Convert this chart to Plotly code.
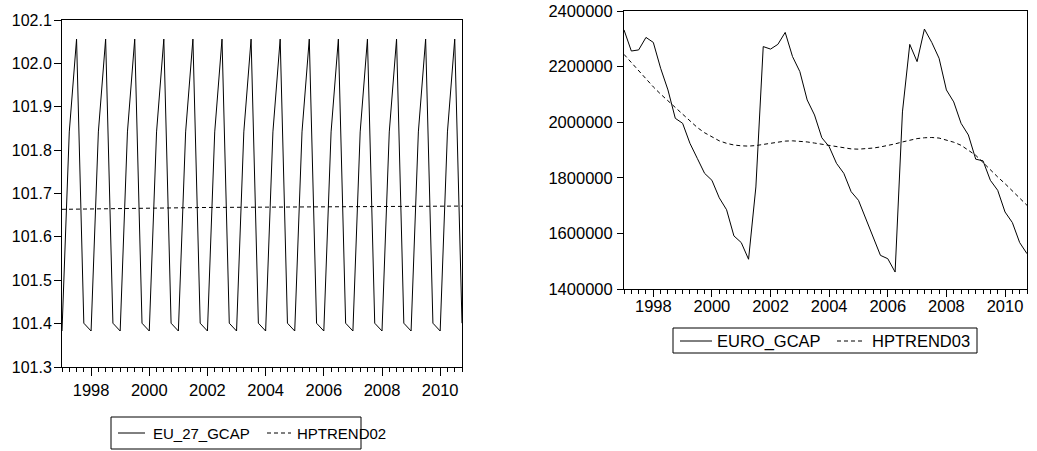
import plotly.graph_objects as go

# ---- data -------------------------------------------------------------
years = list(range(1997, 2011))
quarter_offsets = [0.0, 0.25, 0.5, 0.75]          # Q1..Q4 position inside a year
x = [y + q for y in years for q in quarter_offsets]

eu27_gcap = [
    101.383, 101.842, 102.056, 101.401,  # 1997
    101.383, 101.842, 102.056, 101.401,  # 1998
    101.383, 101.842, 102.056, 101.401,  # 1999
    101.383, 101.842, 102.056, 101.401,  # 2000
    101.383, 101.842, 102.056, 101.401,  # 2001
    101.383, 101.842, 102.056, 101.401,  # 2002
    101.383, 101.842, 102.056, 101.401,  # 2003
    101.383, 101.842, 102.056, 101.401,  # 2004
    101.383, 101.842, 102.056, 101.401,  # 2005
    101.383, 101.842, 102.056, 101.401,  # 2006
    101.383, 101.842, 102.056, 101.401,  # 2007
    101.383, 101.842, 102.056, 101.401,  # 2008
    101.383, 101.842, 102.056, 101.401,  # 2009
    101.383, 101.842, 102.056, 101.401,  # 2010
]

hptrend02 = [
    101.6635, 101.6638, 101.6642, 101.6645, 101.6648, 101.6651, 101.6653, 101.6656,
    101.6658, 101.6660, 101.6662, 101.6664, 101.6666, 101.6668, 101.6669, 101.6671,
    101.6672, 101.6674, 101.6675, 101.6676, 101.6678, 101.6679, 101.6680, 101.6681,
    101.6682, 101.6683, 101.6684, 101.6685, 101.6686, 101.6687, 101.6688, 101.6689,
    101.6690, 101.6691, 101.6692, 101.6692, 101.6693, 101.6694, 101.6695, 101.6696,
    101.6697, 101.6697, 101.6698, 101.6699, 101.6700, 101.6701, 101.6702, 101.6702,
    101.6703, 101.6704, 101.6705, 101.6706, 101.6707, 101.6708, 101.6709, 101.6710,
]

euro_gcap = [
    2332000, 2256000, 2260000, 2305000,
    2287000, 2194000, 2116000, 2014000,
    1996000, 1924000, 1870000, 1816000,
    1791000, 1728000, 1685000, 1591000,
    1567000, 1507000, 1767000, 2272000,
    2263000, 2280000, 2323000, 2236000,
    2182000, 2080000, 2026000, 1944000,
    1912000, 1852000, 1816000, 1750000,
    1719000, 1653000, 1593000, 1521000,
    1509000, 1461000, 2037000, 2280000,
    2218000, 2335000, 2287000, 2230000,
    2116000, 2073000, 1996000, 1954000,
    1867000, 1861000, 1791000, 1755000,
    1677000, 1639000, 1567000, 1527000,
]

hptrend03 = [
    2244000, 2214000, 2184000, 2155000,
    2127000, 2101000, 2077000, 2055000,
    2030000, 2005000, 1981000, 1962000,
    1946000, 1933000, 1924000, 1918000,
    1915000, 1914000, 1916000, 1920000,
    1925000, 1929000, 1932000, 1933000,
    1932000, 1929000, 1925000, 1921000,
    1916000, 1911000, 1907000, 1904000,
    1903000, 1904000, 1907000, 1911000,
    1916000, 1922000, 1929000, 1936000,
    1941000, 1944000, 1945000, 1943000,
    1936000, 1928000, 1917000, 1900000,
    1881000, 1855000, 1828000, 1803000,
    1779000, 1753000, 1727000, 1701000,
]

label_years = [1998, 2000, 2002, 2004, 2006, 2008, 2010]
left_yticks = [101.3, 101.4, 101.5, 101.6, 101.7, 101.8, 101.9, 102.0, 102.1]
right_yticks = [1400000, 1600000, 1800000, 2000000, 2200000, 2400000]

left_names = ["EU_27_GCAP", "HPTREND02"]
right_names = ["EURO_GCAP", "HPTREND03"]

# ---- geometry helpers (page pixels -> paper) ------------------------------
W, H = 1037, 451
FONT = "Liberation Sans, Arial, Helvetica, sans-serif"
DASH = "4px,3px"


def px(X):
    return X / W


def py(Y):
    return 1 - Y / H


fig = go.Figure()
fig.add_trace(go.Scatter(x=x, y=eu27_gcap, name=left_names[0], mode="lines",
                         line=dict(color="black", width=1), xaxis="x", yaxis="y"))
fig.add_trace(go.Scatter(x=x, y=hptrend02, name=left_names[1], mode="lines",
                         line=dict(color="black", width=1, dash=DASH), xaxis="x", yaxis="y"))
fig.add_trace(go.Scatter(x=x, y=euro_gcap, name=right_names[0], mode="lines",
                         line=dict(color="black", width=1), xaxis="x2", yaxis="y2"))
fig.add_trace(go.Scatter(x=x, y=hptrend03, name=right_names[1], mode="lines",
                         line=dict(color="black", width=1, dash=DASH), xaxis="x2", yaxis="y2"))


def xaxis_style(domain, anchor, ticklen, standoff, fsize):
    return dict(
        domain=domain, anchor=anchor, range=[x[0], x[-1]],
        tickmode="array", tickvals=label_years, ticktext=[str(v) for v in label_years],
        ticks="outside", ticklen=ticklen, tickcolor="black", tickwidth=1,
        ticklabelstandoff=standoff, ticklabeloverflow="allow",
        minor=dict(tickmode="array", tickvals=x, ticks="outside", ticklen=4,
                   tickcolor="black", tickwidth=1, showgrid=False),
        showline=True, linecolor="black", linewidth=1, mirror=True,
        showgrid=False, zeroline=False, automargin=False,
        tickfont=dict(family=FONT, size=fsize, color="black"),
    )


def yaxis_style(domain, anchor, rng, vals, fmt, ticklen, standoff, fsize):
    return dict(
        domain=domain, anchor=anchor, range=rng,
        tickmode="array", tickvals=vals, tickformat=fmt,
        ticks="outside", ticklen=ticklen, tickcolor="black", tickwidth=1,
        ticklabelstandoff=standoff, ticklabeloverflow="allow",
        showline=True, linecolor="black", linewidth=1, mirror=True,
        showgrid=False, zeroline=False, automargin=False,
        tickfont=dict(family=FONT, size=fsize, color="black"),
    )


# ---- manual legends (boxed, like the original) ---------------------------
shapes = []
annotations = []


def add_legend(box, y_mid, solid_seg, dash_seg, text_x, names, fsize):
    x0, y0, x1, y1 = box
    shapes.append(dict(type="rect", xref="paper", yref="paper",
                       x0=px(x0), x1=px(x1), y0=py(y1), y1=py(y0),
                       line=dict(color="black", width=1), fillcolor="white"))
    shapes.append(dict(type="line", xref="paper", yref="paper",
                       x0=px(solid_seg[0]), x1=px(solid_seg[1]), y0=py(y_mid), y1=py(y_mid),
                       line=dict(color="black", width=1)))
    shapes.append(dict(type="line", xref="paper", yref="paper",
                       x0=px(dash_seg[0]), x1=px(dash_seg[1]), y0=py(y_mid), y1=py(y_mid),
                       line=dict(color="black", width=1, dash=DASH)))
    for tx, name in zip(text_x, names):
        annotations.append(dict(xref="paper", yref="paper", x=px(tx), y=py(y_mid),
                                text=name, showarrow=False, xanchor="left", yanchor="middle",
                                font=dict(family=FONT, size=fsize, color="black")))


add_legend((111, 417, 361, 449), 433, (118, 145), (267, 291), (151, 295), left_names, 15)
add_legend((673, 328, 977, 353), 341, (680, 712), (837, 864), (715, 870), right_names, 16.5)

fig.update_layout(
    width=W, height=H,
    margin=dict(l=0, r=0, t=0, b=0),
    paper_bgcolor="white", plot_bgcolor="white",
    font=dict(family=FONT, color="black"),
    xaxis=xaxis_style([px(62), px(462)], "y", 8, 0, 16.5),
    yaxis=yaxis_style([py(367), py(20)], "x", [101.3, 102.1], left_yticks, ".1f", 7, -1, 16),
    xaxis2=xaxis_style([px(624), px(1027)], "y2", 7, -5, 16.5),
    yaxis2=yaxis_style([py(289), py(11)], "x2", [1400000, 2400000], right_yticks, "d", 6, 1, 16.5),
    shapes=shapes,
    annotations=annotations,
    showlegend=False,
)

# remove the browser's default 8px page margin so the figure sits at (0, 0)
fig.write_html("out.html",
               config={"displayModeBar": False},
               post_script="document.body.style.margin='0';"
                           "document.documentElement.style.overflow='hidden';")
